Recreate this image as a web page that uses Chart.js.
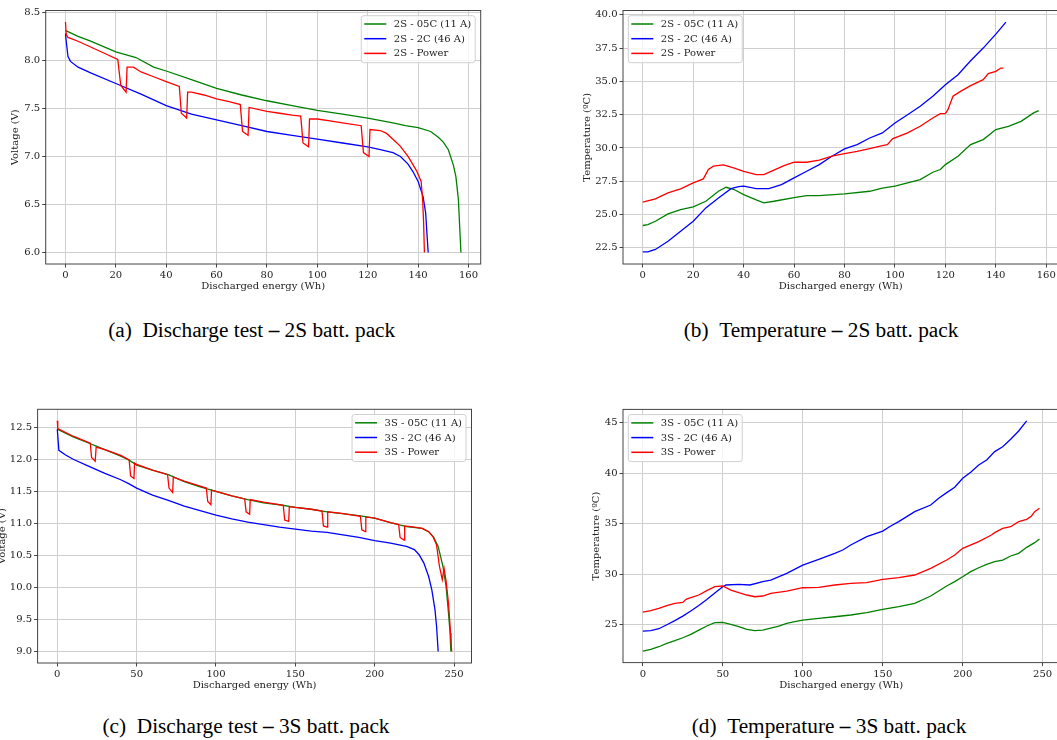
<!DOCTYPE html>
<html><head><meta charset="utf-8">
<script src="https://cdn.jsdelivr.net/npm/chart.js@4.4.1/dist/chart.umd.min.js"></script>
<style>
html,body{margin:0;padding:0;background:#fff;overflow:hidden;width:1057px;height:740px;}
.cv{position:absolute;}
.cap{position:absolute;font-family:"Liberation Serif","Times New Roman",serif;font-size:21.3px;color:#000;white-space:nowrap;transform:translateX(-50%);line-height:1;}
</style></head><body>
<canvas id="ca" class="cv"></canvas>
<canvas id="cb" class="cv"></canvas>
<canvas id="cc" class="cv"></canvas>
<canvas id="cd" class="cv"></canvas>
<div class="cap" style="left:251.7px;top:320.3px">(a)&ensp;Discharge test <b>–</b> 2S batt. pack</div>
<div class="cap" style="left:821px;top:320.3px">(b)&ensp;Temperature <b>–</b> 2S batt. pack</div>
<div class="cap" style="left:246px;top:716.3px">(c)&ensp;Discharge test <b>–</b> 3S batt. pack</div>
<div class="cap" style="left:829px;top:716.3px">(d)&ensp;Temperature <b>–</b> 3S batt. pack</div>
<script>
// ---------- DATA ----------
const labels2S = ['2S - 05C (11 A)', '2S - 2C (46 A)', '2S - Power'];
const labels3S = ['3S - 05C (11 A)', '3S - 2C (46 A)', '3S - Power'];

const xTicks2S = [0, 20, 40, 60, 80, 100, 120, 140, 160];
const xTickLabels2S = ['0', '20', '40', '60', '80', '100', '120', '140', '160'];
const xTicks3S = [0, 50, 100, 150, 200, 250];
const xTickLabels3S = ['0', '50', '100', '150', '200', '250'];
const yTicksA = [6.0, 6.5, 7.0, 7.5, 8.0, 8.5];
const yTickLabelsA = ['6.0', '6.5', '7.0', '7.5', '8.0', '8.5'];
const yTicksB = [22.5, 25.0, 27.5, 30.0, 32.5, 35.0, 37.5, 40.0];
const yTickLabelsB = ['22.5', '25.0', '27.5', '30.0', '32.5', '35.0', '37.5', '40.0'];
const yTicksC = [9.0, 9.5, 10.0, 10.5, 11.0, 11.5, 12.0, 12.5];
const yTickLabelsC = ['9.0', '9.5', '10.0', '10.5', '11.0', '11.5', '12.0', '12.5'];
const yTicksD = [25, 30, 35, 40, 45];
const yTickLabelsD = ['25', '30', '35', '40', '45'];

// (a) Discharge test 2S
const a_green_x = [0, 1, 5, 10, 20, 28, 35, 40, 50, 60, 70, 80, 90, 100, 110, 120, 130, 135, 140, 145, 148, 150, 152, 154, 155, 156, 156.5, 157];
const a_green_y = [8.31, 8.30, 8.25, 8.20, 8.09, 8.03, 7.93, 7.89, 7.80, 7.71, 7.64, 7.58, 7.53, 7.48, 7.44, 7.40, 7.35, 7.32, 7.30, 7.26, 7.20, 7.15, 7.07, 6.91, 6.79, 6.55, 6.27, 6.0];
const a_blue_x = [0, 0.3, 1, 2, 5, 10, 20, 30, 40, 50, 60, 70, 80, 90, 100, 110, 120, 125, 130, 133, 136, 138, 140, 142, 143, 143.5, 144];
const a_blue_y = [8.28, 8.20, 8.04, 7.99, 7.93, 7.87, 7.76, 7.65, 7.53, 7.44, 7.38, 7.32, 7.26, 7.22, 7.18, 7.14, 7.10, 7.07, 7.04, 7.00, 6.92, 6.84, 6.74, 6.58, 6.41, 6.20, 6.0];
const a_red_x = [0, 0.3, 1, 5, 10, 15, 20.76, 21.95, 24.07, 24.46, 27, 30, 35, 40, 45.2, 46.0, 48.1, 48.5, 50, 55, 60, 65, 69.4, 70.3, 72.5, 72.9, 80, 85, 90, 93.4, 94.3, 96.5, 96.9, 100, 105, 110, 117.4, 118.3, 120.5, 120.9, 125, 127.5, 130, 132.8, 136, 139.4, 141.2, 141.8, 142.2, 142.5];
const a_red_y = [8.40, 8.27, 8.24, 8.20, 8.14, 8.08, 8.01, 7.74, 7.67, 7.93, 7.93, 7.88, 7.83, 7.78, 7.73, 7.45, 7.40, 7.67, 7.67, 7.64, 7.60, 7.57, 7.54, 7.26, 7.22, 7.51, 7.47, 7.45, 7.43, 7.42, 7.14, 7.10, 7.39, 7.39, 7.37, 7.35, 7.32, 7.04, 7.00, 7.28, 7.27, 7.24, 7.18, 7.11, 7.00, 6.85, 6.74, 6.55, 6.30, 6.0];

// (b) Temperature 2S
const b_green_x = [0, 2, 5, 10, 15, 20, 25, 30, 33, 36, 40, 45, 48, 52, 60, 65, 70, 80, 90, 95, 100, 105, 110, 115, 118, 120, 125, 130, 135, 140, 145, 150, 155, 157];
const b_green_y = [24.18, 24.25, 24.5, 25.05, 25.38, 25.58, 26.0, 26.75, 27.05, 26.9, 26.5, 26.1, 25.88, 26.0, 26.28, 26.43, 26.43, 26.55, 26.75, 26.98, 27.13, 27.38, 27.63, 28.18, 28.38, 28.75, 29.38, 30.25, 30.63, 31.38, 31.63, 32.0, 32.63, 32.8];
const b_blue_x = [0, 2, 5, 10, 15, 20, 25, 30, 35, 38, 40, 45, 50, 55, 60, 65, 70, 75, 80, 85, 90, 95, 100, 105, 110, 115, 120, 125, 130, 135, 140, 144];
const b_blue_y = [22.2, 22.2, 22.38, 23.0, 23.75, 24.5, 25.5, 26.25, 26.95, 27.1, 27.13, 26.95, 26.95, 27.25, 27.75, 28.25, 28.75, 29.38, 29.93, 30.25, 30.75, 31.13, 31.88, 32.5, 33.13, 33.88, 34.75, 35.5, 36.55, 37.5, 38.55, 39.45];
const b_red_x = [0, 5, 10, 15, 20, 24, 26, 28, 32, 36, 40, 45, 48, 52, 56, 60, 65, 70, 75, 80, 85, 90, 95, 97, 99, 105, 110, 115, 118, 120, 121, 123, 126, 130, 135, 137, 140, 142, 143];
const b_red_y = [25.93, 26.18, 26.63, 26.93, 27.38, 27.68, 28.38, 28.63, 28.73, 28.5, 28.25, 28.0, 28.0, 28.33, 28.68, 28.93, 28.93, 29.08, 29.38, 29.58, 29.75, 29.95, 30.18, 30.25, 30.68, 31.13, 31.63, 32.25, 32.58, 32.58, 32.88, 33.88, 34.25, 34.68, 35.13, 35.58, 35.75, 36.0, 36.0];

// (c) Discharge test 3S
const c_green_x = [0, 10, 20, 25, 30, 40, 45, 50, 60, 70, 80, 90, 100, 110, 120, 130, 140, 150, 160, 170, 180, 190, 200, 210, 220, 230, 234, 237, 240, 243, 245, 246.5, 247.5, 248];
const c_green_y = [12.47, 12.35, 12.25, 12.2, 12.15, 12.05, 11.99, 11.91, 11.83, 11.76, 11.65, 11.57, 11.50, 11.43, 11.37, 11.32, 11.29, 11.25, 11.22, 11.18, 11.15, 11.12, 11.08, 11.01, 10.95, 10.92, 10.87, 10.79, 10.64, 10.33, 10.01, 9.6, 9.29, 9.0];
const c_blue_x = [0, 1, 5, 10, 20, 30, 40, 45, 50, 60, 70, 80, 90, 100, 110, 120, 130, 140, 150, 160, 170, 180, 190, 200, 210, 220, 225, 228, 231, 234, 236, 238, 239, 240];
const c_blue_y = [12.47, 12.14, 12.07, 12.0, 11.89, 11.78, 11.68, 11.62, 11.55, 11.44, 11.36, 11.27, 11.2, 11.13, 11.07, 11.02, 10.98, 10.94, 10.91, 10.88, 10.86, 10.82, 10.78, 10.73, 10.69, 10.64, 10.59, 10.51, 10.38, 10.17, 9.96, 9.65, 9.39, 9.0];
const c_red_x = [0, 0.3, 10, 20.8, 21.6, 23.9, 24.5, 30, 40, 45.3, 46.2, 48.3, 48.7, 50, 60, 69.5, 70.4, 72.7, 73.1, 80, 90, 93.9, 94.8, 96.8, 97.2, 100, 110, 118.1, 119, 121.2, 121.6, 130, 142.4, 143.3, 145.8, 146.2, 150, 160, 166.8, 167.7, 170, 170.4, 180, 191, 191.9, 194, 194.4, 200, 210, 215.1, 216, 218.5, 218.9, 225, 230, 234, 237, 239, 240.8, 242.6, 243.7, 245, 246.5, 247.5, 248.5];
const c_red_y = [12.60, 12.48, 12.36, 12.25, 12.03, 11.97, 12.19, 12.15, 12.06, 11.99, 11.74, 11.70, 11.94, 11.92, 11.83, 11.76, 11.55, 11.48, 11.72, 11.66, 11.58, 11.55, 11.34, 11.29, 11.52, 11.50, 11.43, 11.38, 11.18, 11.14, 11.37, 11.33, 11.28, 11.05, 11.03, 11.26, 11.25, 11.22, 11.19, 10.96, 10.94, 11.18, 11.15, 11.11, 10.90, 10.87, 11.10, 11.08, 11.01, 10.98, 10.78, 10.74, 10.96, 10.94, 10.92, 10.87, 10.78, 10.66, 10.33, 10.12, 10.30, 10.10, 9.75, 9.40, 9.0];

// (d) Temperature 3S
const d_green_x = [0, 5, 10, 15, 20, 25, 30, 35, 40, 45, 50, 55, 60, 65, 70, 75, 80, 85, 90, 95, 100, 110, 120, 130, 140, 150, 160, 170, 180, 185, 190, 195, 200, 205, 210, 215, 220, 225, 230, 235, 240, 245, 248];
const d_green_y = [22.39, 22.56, 22.82, 23.15, 23.42, 23.71, 24.04, 24.47, 24.87, 25.2, 25.23, 25.03, 24.8, 24.54, 24.41, 24.47, 24.67, 24.87, 25.13, 25.3, 25.46, 25.63, 25.79, 25.96, 26.19, 26.52, 26.78, 27.11, 27.84, 28.33, 28.83, 29.26, 29.75, 30.25, 30.64, 30.97, 31.24, 31.4, 31.8, 32.06, 32.66, 33.12, 33.48];
const d_blue_x = [0, 5, 10, 15, 20, 25, 30, 35, 40, 45, 50, 52, 60, 67, 75, 80, 90, 100, 110, 120, 125, 130, 140, 150, 155, 160, 170, 180, 185, 190, 195, 200, 205, 210, 215, 220, 225, 230, 235, 240];
const d_blue_y = [24.37, 24.41, 24.6, 25.0, 25.4, 25.85, 26.35, 26.9, 27.5, 28.15, 28.76, 28.93, 28.99, 28.93, 29.26, 29.42, 30.08, 30.9, 31.47, 32.06, 32.39, 32.89, 33.71, 34.27, 34.77, 35.2, 36.19, 36.85, 37.51, 38.07, 38.6, 39.49, 40.08, 40.81, 41.3, 42.13, 42.62, 43.35, 44.17, 45.17];
const d_red_x = [0, 5, 10, 15, 20, 25, 27, 30, 35, 40, 45, 50, 55, 60, 65, 70, 75, 80, 90, 100, 110, 120, 130, 140, 150, 160, 170, 180, 190, 195, 200, 210, 218, 220, 225, 230, 235, 240, 243, 245, 248];
const d_red_y = [26.25, 26.39, 26.62, 26.88, 27.11, 27.21, 27.51, 27.67, 27.94, 28.37, 28.76, 28.83, 28.43, 28.17, 27.94, 27.77, 27.84, 28.1, 28.33, 28.66, 28.7, 28.93, 29.09, 29.16, 29.49, 29.65, 29.92, 30.58, 31.4, 31.9, 32.56, 33.22, 33.88, 34.11, 34.54, 34.7, 35.2, 35.43, 35.76, 36.19, 36.52];

// ---------- STYLE / LAYOUT ----------
const COLORS = ['#008000', '#0000ff', '#ff0000'];
const FONT = 'DejaVu Serif';
const TXT = '#222';

const framePlugin = {
  id: 'mplFrame',
  afterDatasetsDraw(chart) {
    const {ctx, chartArea: a} = chart;
    ctx.save();
    ctx.strokeStyle = '#444';
    ctx.lineWidth = 1;
    ctx.strokeRect(a.left, a.top, a.right - a.left, a.bottom - a.top);
    ctx.restore();
  }
};
const legendPlugin = {
  id: 'mplLegend',
  afterDraw(chart, args, opts) {
    const {ctx, chartArea: a} = chart;
    const ds = chart.data.datasets;
    ctx.save();
    ctx.font = '10px "' + FONT + '"';
    const tw = Math.max(...ds.map(d => ctx.measureText(d.label).width));
    const w = 3 + 22 + 7.5 + tw + 4, h = 47;
    const x = opts.loc === 'ur' ? a.right - 5.5 - w : a.left + 5.3;
    const y = a.top + 5.2;
    ctx.beginPath();
    ctx.roundRect(x, y, w, h, 2.5);
    ctx.fillStyle = 'rgba(255,255,255,0.8)';
    ctx.fill();
    ctx.strokeStyle = '#d0d0d0';
    ctx.lineWidth = 1;
    ctx.stroke();
    ds.forEach((d, i) => {
      const ry = y + 8.3 + i * 14.7;
      ctx.beginPath();
      ctx.moveTo(x + 3, ry);
      ctx.lineTo(x + 25, ry);
      ctx.strokeStyle = d.borderColor;
      ctx.lineWidth = 1.5;
      ctx.stroke();
      ctx.fillStyle = TXT;
      ctx.textBaseline = 'middle';
      ctx.textAlign = 'left';
      ctx.fillText(d.label, x + 32.5, ry + 0.5);
    });
    ctx.restore();
  }
};

function series(xs, ys) { return xs.map((x, i) => ({x: x, y: ys[i]})); }

function makeChart(id, pos, area, xr, yr, xt, xtl, yt, ytl, ytitle, ytitleX, xtitleY, names, data, loc) {
  const cv = document.getElementById(id);
  cv.width = pos.w; cv.height = pos.h;
  cv.style.left = pos.left + 'px'; cv.style.top = pos.top + 'px';
  cv.style.width = pos.w + 'px'; cv.style.height = pos.h + 'px';
  const yW = area.L - pos.left;
  const xH = pos.top + pos.h - area.B;
  const padTop = area.T - pos.top;
  const padRight = pos.left + pos.w - area.R;
  const tickFont = {family: FONT, size: 10};
  const grid = {color: '#cfcfcf', lineWidth: 1, drawTicks: true, tickLength: 3.5, tickColor: '#444', tickWidth: 1};
  new Chart(cv, {
    type: 'line',
    data: {
      datasets: data.map((d, i) => ({
        label: names[i],
        data: series(d[0], d[1]),
        borderColor: COLORS[i],
        backgroundColor: COLORS[i],
        borderWidth: 1.3,
        pointRadius: 0,
        tension: 0,
        fill: false,
        order: 3 - i
      }))
    },
    options: {
      responsive: false,
      animation: false,
      devicePixelRatio: 1,
      parsing: true,
      layout: {padding: {left: 0, top: padTop, right: padRight, bottom: 0}},
      plugins: {legend: {display: false}, tooltip: {enabled: false}, mplLegend: {loc: loc}},
      scales: {
        x: {
          type: 'linear', min: xr[0], max: xr[1],
          afterBuildTicks: s => { s.ticks = xt.map(v => ({value: v})); },
          afterFit: s => { s.height = xH; },
          ticks: {font: tickFont, color: TXT, padding: 2, maxRotation: 0, autoSkip: false,
                  callback: (v, i) => xtl[i]},
          grid: grid,
          border: {display: false},
          title: {display: true, text: 'Discharged energy (Wh)', font: tickFont, color: TXT,
                  padding: {top: 0, bottom: pos.h - xtitleY - 6}}
        },
        y: {
          type: 'linear', min: yr[0], max: yr[1],
          afterBuildTicks: s => { s.ticks = yt.map(v => ({value: v})); },
          afterFit: s => { s.width = yW; },
          ticks: {font: tickFont, color: TXT, padding: 2, autoSkip: false,
                  callback: (v, i) => ytl[i]},
          grid: grid,
          border: {display: false},
          title: {display: true, text: ytitle, font: tickFont, color: TXT,
                  padding: {top: ytitleX - 6, bottom: 0}}
        }
      }
    },
    plugins: [framePlugin, legendPlugin]
  });
}

makeChart('ca', {left: 0, top: 0, w: 495, h: 300}, {L: 45.7, T: 10.5, R: 480.7, B: 264},
  [-7.85, 164.85], [5.88, 8.52], xTicks2S, xTickLabels2S, yTicksA, yTickLabelsA,
  'Voltage (V)', 15.5, 286.7, labels2S,
  [[a_green_x, a_green_y], [a_blue_x, a_blue_y], [a_red_x, a_red_y]], 'ur');

makeChart('cb', {left: 560, top: 0, w: 510, h: 300}, {L: 623.0, T: 10.5, R: 1058.5, B: 264},
  [-7.85, 164.85], [21.29, 40.32], xTicks2S, xTickLabels2S, yTicksB, yTickLabelsB,
  'Temperature (ºC)', 27, 286.7, labels2S,
  [[b_green_x, b_green_y], [b_blue_x, b_blue_y], [b_red_x, b_red_y]], 'ul');

makeChart('cc', {left: -10, top: 395, w: 495, h: 310}, {L: 37.6, T: 409.3, R: 471.5, B: 663},
  [-12.4, 261], [8.82, 12.78], xTicks3S, xTickLabels3S, yTicksC, yTickLabelsC,
  'Voltage (V)', 12, 290.7, labels3S,
  [[c_green_x, c_green_y], [c_blue_x, c_blue_y], [c_red_x, c_red_y]], 'ur');

makeChart('cd', {left: 560, top: 395, w: 510, h: 310}, {L: 623, T: 409.4, R: 1059.3, B: 662.6},
  [-12.4, 260.4], [21.25, 46.31], xTicks3S, xTickLabels3S, yTicksD, yTickLabelsD,
  'Temperature (ºC)', 36.7, 290.7, labels3S,
  [[d_green_x, d_green_y], [d_blue_x, d_blue_y], [d_red_x, d_red_y]], 'ul');
</script>
</body></html>
